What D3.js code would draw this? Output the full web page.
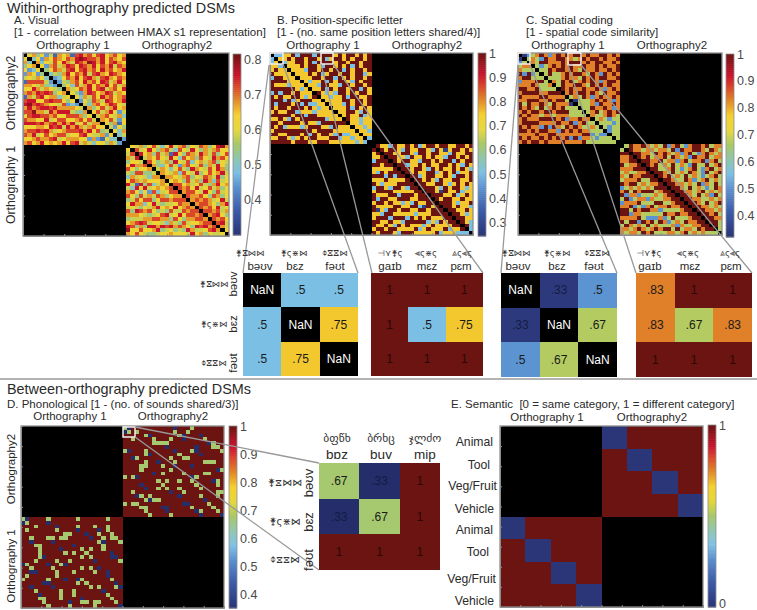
<!DOCTYPE html>
<html>
<head>
<meta charset="utf-8">
<script src="https://cdn.jsdelivr.net/npm/d3@7"></script>
<style>
  html, body { margin: 0; padding: 0; background: #fff; }
  text { font-family: "Liberation Sans", Arial, sans-serif; fill: #2a2a2a; }
  .cbar text { fill: #4a4a4a; font-size: 12.5px; }
  .glyph { font-family: "DejaVu Sans", sans-serif; font-size: 8.5px; fill: #333; }
</style>
</head>
<body>
<svg id="fig" width="757" height="610"></svg>
<script>
// Upper triangles of the DSMs. Row i holds columns i+1..23.
// Each digit is an index into the panel's level list.
const visualLevels = [0.38, 0.44, 0.5, 0.54, 0.58, 0.62, 0.67, 0.72, 0.75, 0.79];
const visualOrth1 = [
  "56351406560786757856756", "2516576576898776857657", "625475864876986857865 6", "51674687587685768476",
  "3576478578675867568", "243685768478658765", "12576857864786576", "1436758675874685",
  "352746857685746", "64576857846758", "5316875687465", "526475867567",
  "15376487568", "4267568754", "635746856", "57468514",
  "4675462", "657415", "53605", "4153", "526", "24", "1"
];
const visualOrth2 = [
  "54635742584673547635896", "7458536742754853646755", "856374608537648647357", "46575485275637548675",
  "7534638547256467354", "632574167547364853", "46525743865475863", "6546275483575684",
  "665467354764835", "56537463862745", "7756457436856", "767584574635",
  "67754853745", "7667537635", "676764584", "67765368",
  "7675845", "776746", "67853", "7675", "784", "64", "5"
];

const letterLevels = [NaN, 0.5, 0.75, 1, 0.27];
const letterOrth1 = [
  "11223133313333232332323", "2232332332312332323323", "122332313333233233233", "22232332133232313233",
  "2221332332331323323", "222323123323323312", "22233233132323323", "2122313233213233",
  "221332213323323", "22313233233132", "3212133232332", "221223133223",
  "22223323323", "2221323323", "222313232", "22332132",
  "2322312", "322122", "22122", "2212", "221", "22", "1"
];
const letterOrth2 = [
  "32213223231233233223323", "3233213223321324233232", "332233213323322132233", "33221322323221332323",
  "3233221332323313233", "331223232233232132", "33233213232232321", "3232233123231223",
  "331233223213323", "33232132233223", "3322332123232", "333213233212",
  "33243223122", "3332231232", "323322322", "33321223",
  "3323221", "332232", "33212", "3322", "321", "31", "1"
];

const spatialLevels = [NaN, 0.33, 0.5, 0.67, 0.83, 1];
const spatialOrth1 = [
  "12345424545455454455454", "3432544554434545545445", "435544454555454554454", "32345454544544545445",
  "3354554543544544545", "353345455435425454", "33345443545455445", "4354534545424554",
  "354455435454544", "54544544542454", "4545545435445", "343542454454",
  "13334545424", "3334254454", "335445424", "34534545",
  "4334543", "343233", "33323", "3233", "233", "33", "3"
];
const spatialOrth2 = [
  "35445434352453245545344", "5443443443525445543543", "554435454342453245434", "54534453543425445344",
  "5544534424534452453", "545343534325335345", "55334532345324534", "5543534354325345",
  "545343534323453", "55433542345343", "5544343524353", "554353432354",
  "55443453434", "5543534253", "554433434", "55435345",
  "5544343", "554434", "55453", "5544", "553", "53", "3"
];

// Phonological block: for each row, the columns at .67 and at .33; everything else is 1
const phonoGreen = [
  [0, 16], [1, 3, 12, 15], [5, 13], [2, 7, 11, 19], [7, 8, 9, 10, 21], [21, 22],
  [0, 5, 16, 23], [5, 13], [3, 11, 14, 15], [5, 12, 19, 20, 21], [4, 5, 9], [4, 11, 23],
  [9, 14, 19, 20], [0, 2, 17], [8, 10, 13, 16, 22], [9, 17, 22], [8, 10, 13, 18], [2, 14, 22, 23],
  [4, 6, 18, 22], [5, 7, 8], [0, 2, 3, 20], [4, 5, 16, 21], [5, 18, 22], [6, 11]
];
const phonoNavy = [
  [1, 12], [0], [6, 14, 18], [14], [20], [10, 17],
  [1, 12, 17], [6, 18], [2], [8], [12, 16], [22],
  [7], [3, 16], [21], [4], [5], [11],
  [3, 13], [6, 19], [14, 15], [9, 10], [10, 17], [18, 23]
];

const semanticBlock = [[0, 1, 1, 1], [1, 0, 1, 1], [1, 1, 0, 1], [1, 1, 1, 0]];

// Enlarged corners
const letterZoomA = [[NaN, 0.5, 0.5], [0.5, NaN, 0.75], [0.5, 0.75, NaN]];
const letterZoomB = [[1, 1, 1], [1, 0.5, 0.75], [1, 1, 1]];
const spatialZoomA = [[NaN, 0.33, 0.5], [0.33, NaN, 0.67], [0.5, 0.67, NaN]];
const spatialZoomB = [[0.83, 1, 1], [0.83, 0.67, 0.83], [1, 1, 1]];
const phonoZoom = [[0.67, 0.33, 1], [0.33, 0.67, 1], [1, 1, 1]];

const wordsA = ["bəʊv", "bɛz", "fəʊt"];
const wordsB = ["gaɪb", "mɛz", "pɛm"];
const wordsD = ["bɒz", "buv", "mip"];
const glyphsA = ["⚵⧖⋈⋈", "⚵ς⋇⋈", "⌽⧖⧖⋈"];
const glyphsB = ["⊣⋎⚵ς", "⫷ς⋇ς", "⩓ς⫷ς"];
const glyphsD = ["ბფწხ", "ბრხც", "ჯლძო"];

const semanticCats = ["Animal", "Tool", "Veg/Fruit", "Vehicle"];
const visualTicks = [0.4, 0.5, 0.6, 0.7, 0.8];
const letterTicks = [0.3, 0.4, 0.5, 0.6, 0.7, 0.8, 0.9, 1];
const spatialTicks = [0.4, 0.5, 0.6, 0.7, 0.8, 0.9, 1];
const phonoTicks = [0.4, 0.5, 0.6, 0.7, 0.8, 0.9, 1];
const semanticTicks = [0, 1];

const N = 24;
const FRAME = "#8e8e8e";
const cmap = d3.scaleLinear()
  .domain([0, 0.13, 0.26, 0.34, 0.42, 0.5, 0.58, 0.66, 0.75, 0.82, 0.88, 1])
  .range(["#2a3677", "#3c5aa8", "#5a90d0", "#7cc0e6", "#8fc6ae", "#a8c868", "#e6d63c",
          "#f5d030", "#e08028", "#d9432a", "#c8102a", "#6b1412"]);

const svg = d3.select("#fig");

// Triangle strings -> full symmetric matrix of values
function symmetric(rows, levels) {
  const m = d3.range(N).map(() => d3.range(N).map(() => NaN));
  rows.forEach((row, i) => {
    const digits = row.replace(/ /g, "");
    for (let j = i + 1; j < N; j++) {
      const v = levels[+digits[j - i - 1]];
      const val = v === undefined ? levels[levels.length - 1] : v;
      m[i][j] = val;
      m[j][i] = val;
    }
  });
  return m;
}

function phonoMatrix() {
  return d3.range(N).map(i => d3.range(N).map(j =>
    phonoGreen[i].includes(j) ? 0.67 : phonoNavy[i].includes(j) ? 0.33 : 1));
}

function transpose(m) {
  return m[0].map((_, j) => m.map(row => row[j]));
}

/**
 * One full DSM: black ground, two blocks and a colour bar.
 * opts - { x0, x1, y0, y1, topLeft, bottomRight, topRight, bottomLeft, size, lo, hi, bar, ticks }
 */
function drawDsm(opts) {
  const { x0, x1, y0, y1, topLeft, bottomRight, size = N * 2, lo, hi, bar, ticks } = opts;
  const sx = d3.scaleBand().domain(d3.range(size)).range([x0, x1]);
  const sy = d3.scaleBand().domain(d3.range(size)).range([y0, y1]);
  const color = v => cmap((v - lo) / (hi - lo));
  const half = size / 2;

  svg.append("rect").attr("x", x0).attr("y", y0)
    .attr("width", x1 - x0).attr("height", y1 - y0).attr("fill", "#000");

  const blocks = [];
  if (topLeft) blocks.push({ m: topLeft, ox: 0, oy: 0 });
  if (bottomRight) blocks.push({ m: bottomRight, ox: half, oy: half });
  if (opts.topRight) blocks.push({ m: opts.topRight, ox: half, oy: 0 });
  if (opts.bottomLeft) blocks.push({ m: opts.bottomLeft, ox: 0, oy: half });

  blocks.forEach(b => {
    b.m.forEach((row, i) => row.forEach((v, j) => {
      if (Number.isNaN(v)) return;
      svg.append("rect")
        .attr("x", sx(b.ox + j)).attr("y", sy(b.oy + i))
        .attr("width", sx.bandwidth()).attr("height", sy.bandwidth())
        .attr("shape-rendering", "crispEdges")
        .attr("fill", color(v));
    }));
  });

  // Frame with the small MATLAB ticks
  const tickX = d3.scaleLinear().domain([0, 10]).range([x0, x1]);
  const tickY = d3.scaleLinear().domain([0, 9]).range([y0, y1]);
  svg.append("g").attr("transform", `translate(0,${y1})`)
    .call(d3.axisBottom(tickX).tickValues(d3.range(1, 10)).tickSize(-2).tickFormat(""))
    .call(g => g.selectAll("line,path").attr("stroke", FRAME));
  svg.append("g").attr("transform", `translate(${x0},0)`)
    .call(d3.axisLeft(tickY).tickValues(d3.range(1, 9)).tickSize(-2).tickFormat(""))
    .call(g => g.selectAll("line,path").attr("stroke", FRAME));
  svg.append("rect").attr("x", x0).attr("y", y0)
    .attr("width", x1 - x0).attr("height", y1 - y0)
    .attr("fill", "none").attr("stroke", FRAME).attr("stroke-width", 1.3);

  // Colour bar
  const barY = d3.scaleLinear().domain([lo, hi]).range([bar.y1, bar.y0]);
  const steps = d3.range(0, 1, 1 / 90);
  svg.append("g").selectAll("rect").data(steps).join("rect")
    .attr("x", bar.x0).attr("width", bar.x1 - bar.x0)
    .attr("y", t => barY(lo + (t + 1 / 90) * (hi - lo)))
    .attr("height", (bar.y1 - bar.y0) / 90 + 0.5)
    .attr("fill", t => cmap(t));
  svg.append("rect").attr("x", bar.x0).attr("y", bar.y0)
    .attr("width", bar.x1 - bar.x0).attr("height", bar.y1 - bar.y0)
    .attr("fill", "none").attr("stroke", FRAME).attr("stroke-width", 0.8);
  svg.append("g").attr("class", "cbar")
    .attr("transform", `translate(${bar.x1},0)`)
    .call(d3.axisRight(barY).tickValues(ticks).tickSize(0).tickPadding(3)
      .tickFormat(d => (d === 0 || d === 1) ? String(d) : d3.format(".1f")(d)))
    .call(g => g.select(".domain").remove())
    .call(g => g.selectAll("text").attr("dy", d => d === 0 ? "0" : "0.32em"));
}

/**
 * Enlarged 3x3 corner with written values.
 */
function drawZoom(values, box, lo, hi) {
  const sx = d3.scaleBand().domain(d3.range(3)).range([box.x0, box.x1]);
  const sy = d3.scaleBand().domain(d3.range(3)).range([box.y0, box.y1]);
  const color = v => Number.isNaN(v) ? "#000" : cmap((v - lo) / (hi - lo));
  const label = v => Number.isNaN(v) ? "NaN" : v === 1 ? "1" : d3.format(".2~f")(v).replace(/^0/, "");
  const cells = values.flatMap((row, i) => row.map((v, j) => ({ v, i, j })));
  svg.append("g").selectAll("rect").data(cells).join("rect")
    .attr("x", d => sx(d.j)).attr("y", d => sy(d.i))
    .attr("width", sx.bandwidth()).attr("height", sy.bandwidth())
    .attr("shape-rendering", "crispEdges")
    .attr("fill", d => color(d.v));
  svg.append("g").selectAll("text").data(cells).join("text")
    .attr("x", d => sx(d.j) + sx.bandwidth() / 2)
    .attr("y", d => sy(d.i) + sy.bandwidth() / 2 + 4)
    .attr("text-anchor", "middle")
    .style("font-size", "12px")
    .style("fill", d => Number.isNaN(d.v) ? "#fff" : d.v === 1 ? "#2a0807" : d.v === 0.33 ? "#141c44" : "#1a1a1a")
    .text(d => label(d.v));
}

function text(x, y, str, size, anchor = "start", rotate = false, cls = null) {
  const t = svg.append("text").style("font-size", `${size}px`).attr("text-anchor", anchor).text(str);
  if (rotate) t.attr("transform", `translate(${x},${y}) rotate(-90)`);
  else t.attr("x", x).attr("y", y);
  if (cls) t.attr("class", cls);
  return t;
}

function orthoHeads(c1, c2, y) {
  text(c1, y, "Orthography 1", 11.5, "middle");
  text(c2, y, "Orthography2", 11.5, "middle");
}

function zoomLines(pairs) {
  pairs.forEach(([a, b, c, d]) => svg.append("line")
    .attr("x1", a).attr("y1", b).attr("x2", c).attr("y2", d)
    .attr("stroke", "#999").attr("stroke-width", 1.3));
}

function whiteBox(x0, y0, x1, y1) {
  svg.append("rect").attr("x", x0).attr("y", y0)
    .attr("width", x1 - x0).attr("height", y1 - y0)
    .attr("fill", "none").attr("stroke", "#f4f0f0").attr("stroke-width", 1.5);
}

function wordHead(words, glyphs, wordX, glyphX, wordY, glyphY, size, glyphSize) {
  words.forEach((w, i) => {
    text(wordX[i], wordY, w, size, "middle");
    text(glyphX[i], glyphY, glyphs[i], glyphSize, "middle", false, "glyph");
  });
}

// --- Titles ---
text(7, 12.5, "Within-orthography predicted DSMs", 14.4);
text(14, 23.5, "A. Visual", 11.5);
text(14, 36, "[1 - correlation between HMAX s1 representation]", 11.5);
text(277, 24, "B. Position-specific letter", 11.5);
text(277, 36, "[1 - (no. same position letters shared/4)]", 11.5);
text(526, 24, "C. Spatial coding", 11.5);
text(526, 36, "[1 - spatial code similarity]", 11.5);
orthoHeads(73, 177, 49);
orthoHeads(323, 427, 49);
orthoHeads(568, 672, 49);
text(15, 93, "Orthography2", 12.2, "middle", true);
text(15, 185, "Orthography 1", 12.2, "middle", true);

// --- Within-orthography DSMs ---
drawDsm({
  x0: 23, x1: 229, y0: 53, y1: 236,
  topLeft: symmetric(visualOrth1, visualLevels), bottomRight: symmetric(visualOrth2, visualLevels),
  lo: 0.297, hi: 0.815, bar: { x0: 233, x1: 241, y0: 54, y1: 235 }, ticks: visualTicks
});
drawDsm({
  x0: 270, x1: 473, y0: 53, y1: 235,
  topLeft: symmetric(letterOrth1, letterLevels), bottomRight: symmetric(letterOrth2, letterLevels),
  lo: 0.245, hi: 1, bar: { x0: 478, x1: 486, y0: 53, y1: 236 }, ticks: letterTicks
});
drawDsm({
  x0: 518, x1: 722, y0: 53, y1: 235,
  topLeft: symmetric(spatialOrth1, spatialLevels), bottomRight: symmetric(spatialOrth2, spatialLevels),
  lo: 0.32, hi: 1, bar: { x0: 726, x1: 734, y0: 54, y1: 237 }, ticks: spatialTicks
});
whiteBox(270, 53, 283, 64);
whiteBox(321, 53, 333, 64);
whiteBox(518, 53, 530, 64);
whiteBox(568, 53, 581, 65);

// --- Enlarged corners ---
zoomLines([
  [269, 65, 243, 273], [283, 64, 358, 273], [321, 64, 372, 273], [333, 64, 483, 273],
  [518, 65, 501, 273], [530, 65, 617, 273], [568, 65, 636, 273], [581, 65, 752, 273]
]);
drawZoom(letterZoomA, { x0: 243, x1: 358, y0: 273, y1: 376 }, 0.245, 1);
drawZoom(letterZoomB, { x0: 371, x1: 483, y0: 273, y1: 376 }, 0.245, 1);
drawZoom(spatialZoomA, { x0: 501, x1: 617, y0: 273, y1: 377 }, 0.32, 1);
drawZoom(spatialZoomB, { x0: 636, x1: 752, y0: 273, y1: 377 }, 0.32, 1);

wordHead(wordsA, glyphsA, [260, 295, 335], [250, 294, 335], 270, 256, 11.5, 8.5);
wordHead(wordsB, glyphsB, [390, 427, 461], [390, 426, 462], 270, 256, 11.5, 8.5);
wordHead(wordsA, glyphsA, [518, 557, 594], [516, 557, 597], 270, 256, 11.5, 8.5);
wordHead(wordsB, glyphsB, [650, 690, 731], [649, 688, 730], 270, 256, 11.5, 8.5);

wordsA.forEach((w, i) => {
  const y = [284, 324, 363][i];
  text(237, y, w, 11.5, "middle", true);
  text(214, y + 3, glyphsA[i], 8.5, "middle", false, "glyph");
});

// --- Divider ---
svg.append("line").attr("x1", 0).attr("x2", 757).attr("y1", 379).attr("y2", 379)
  .attr("stroke", "#9a9a9a").attr("stroke-width", 1.4);

// --- Between-orthography ---
text(7, 394, "Between-orthography predicted DSMs", 14.4);
text(7, 408, "D. Phonological [1 - (no. of sounds shared/3)]", 11.5);
orthoHeads(70, 173, 420);
text(15, 469, "Orthography2", 11.5, "middle", true);
text(15, 566, "Orthography 1", 11.5, "middle", true);

const phono = phonoMatrix();
drawDsm({
  x0: 21, x1: 224, y0: 426, y1: 608,
  topRight: phono, bottomLeft: transpose(phono),
  lo: 0.35, hi: 1, bar: { x0: 229, x1: 237, y0: 426, y1: 608 }, ticks: phonoTicks
});
whiteBox(123, 427, 135, 437);
zoomLines([[135, 427, 319, 463], [135, 437, 319, 570]]);
drawZoom(phonoZoom, { x0: 319, x1: 440, y0: 463, y1: 570 }, 0.35, 1);

wordHead(wordsD, glyphsD, [337, 381, 425], [337, 381, 425], 459, 442, 13.5, 11.5);
wordsA.forEach((w, i) => {
  const y = [483, 522, 560][i];
  text(313, y, w, 13, "middle", true);
  text(285, y + 3, glyphsA[i], 10, "middle", false, "glyph");
});

// --- Semantic ---
text(451, 408, "E. Semantic  [0 = same category, 1 = different category]", 11.5).attr("xml:space", "preserve");
orthoHeads(547, 652, 421);
drawDsm({
  x0: 500, x1: 703, y0: 426, y1: 607, size: 8,
  topRight: semanticBlock, bottomLeft: semanticBlock,
  lo: 0, hi: 1, bar: { x0: 708, x1: 716, y0: 425, y1: 607 }, ticks: semanticTicks
});
const catYs = [442, 465, 486, 509, 530, 552, 579, 601];
const catRight = [493, 490, 497, 494, 493, 489, 496, 494];
catYs.forEach((y, i) => text(catRight[i], y + 4, semanticCats[i % 4], 12.2, "end"));
</script>
</body>
</html>
